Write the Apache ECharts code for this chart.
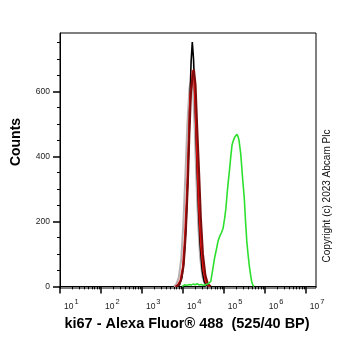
<!DOCTYPE html>
<html>
<head>
<meta charset="utf-8">
<script src="https://cdn.jsdelivr.net/npm/echarts@6/dist/echarts.min.js"></script>
<style>
  html, body { margin: 0; padding: 0; background: #fff; }
  #chart { width: 362px; height: 351px; }
</style>
</head>
<body>
<div id="chart"></div>
<script>
// x positions are log10 of the intensity (10^1 .. 10^7)
const grayLog = [3.78, 3.84, 3.90, 3.96, 4.01, 4.06, 4.11, 4.16, 4.21, 4.25, 4.29, 4.33, 4.37, 4.42, 4.48, 4.54, 4.60]
const grayCounts = [0, 6, 28, 85, 190, 340, 500, 610, 640, 600, 480, 330, 200, 90, 28, 6, 0]

const blackLog = [3.85, 3.92, 3.98, 4.03, 4.08, 4.12, 4.16, 4.20, 4.23, 4.26, 4.30, 4.34, 4.38, 4.42, 4.47, 4.52, 4.58, 4.63]
const blackCounts = [0, 5, 30, 90, 200, 340, 520, 690, 752, 700, 560, 390, 240, 130, 50, 15, 3, 0]

const redLog = [3.82, 3.88, 3.94, 4.00, 4.05, 4.10, 4.14, 4.18, 4.21, 4.24, 4.27, 4.31, 4.35, 4.39, 4.44, 4.50, 4.56, 4.62, 4.66]
const redCounts = [0, 4, 18, 60, 150, 290, 440, 590, 615, 665, 650, 540, 390, 250, 130, 50, 14, 3, 0]

const darkRedLog = [3.84, 3.90, 3.96, 4.02, 4.07, 4.12, 4.16, 4.20, 4.24, 4.27, 4.31, 4.35, 4.40, 4.44, 4.49, 4.55, 4.61, 4.68]
const darkRedCounts = [0, 5, 20, 65, 160, 310, 470, 600, 650, 668, 620, 490, 340, 210, 100, 35, 8, 0]

const greenLog = [3.98, 4.00, 4.05, 4.10, 4.15, 4.20, 4.25, 4.30, 4.35, 4.40, 4.45, 4.50, 4.55, 4.62, 4.68, 4.72, 4.77, 4.82, 4.86, 4.90, 4.94, 4.98, 5.02, 5.05, 5.08, 5.11, 5.14, 5.17, 5.20, 5.23, 5.26, 5.29, 5.32, 5.35, 5.37, 5.39, 5.41, 5.43, 5.45, 5.47, 5.50, 5.53, 5.56, 5.59, 5.62, 5.65, 5.68, 5.71, 5.74]
const greenCounts = [0, 3, 5, 3, 6, 4, 7, 5, 8, 4, 6, 3, 5, 8, 15, 45, 85, 115, 140, 155, 165, 178, 210, 240, 285, 325, 360, 400, 435, 448, 458, 462, 468, 460, 450, 430, 410, 380, 345, 315, 270, 200, 140, 100, 65, 38, 15, 3, 0]

const xDecades = [1, 2, 3, 4, 5, 6, 7]
const yMajor = [0, 200, 400, 600]
const yMinor = [50, 100, 150, 250, 300, 350, 450, 500, 550, 650, 700, 750]

const fontFamily = '"Liberation Sans", Arial, sans-serif'

function pairs (xs, ys) {
  return xs.map((x, i) => [x, ys[i]])
}

// log minor ticks: 2..9 x 10^n
let xMinor = []
xDecades.forEach(d => {
  for (let k = 2; k <= 9; k++) {
    let v = d + Math.log10(k)
    if (v < 7.25) xMinor.push(v)
  }
})

const myChart = echarts.init(document.getElementById('chart'))

const xBase = {
  type: 'value',
  min: 1,
  max: 7.25,
  position: 'bottom',
  splitLine: { show: false }
}
const yBase = {
  type: 'value',
  min: -5,
  max: 780,
  position: 'left',
  splitLine: { show: false }
}

function line (data, color, width) {
  return {
    type: 'line',
    data: data,
    showSymbol: false,
    symbol: 'none',
    xAxisIndex: 0,
    yAxisIndex: 0,
    lineStyle: { color: color, width: width },
    itemStyle: { color: color }
  }
}

const option = {
  animation: false,
  grid: {
    left: 60,
    right: 46,
    top: 33,
    bottom: 63,
    show: true,
    borderColor: '#000',
    borderWidth: 1
  },
  xAxis: [
    Object.assign({}, xBase, {
      axisLine: { show: true, lineStyle: { color: '#000', width: 1 } },
      axisTick: { show: true, customValues: xMinor, length: 3, lineStyle: { color: '#000' } },
      axisLabel: { show: false }
    }),
    Object.assign({}, xBase, {
      axisLine: { show: false },
      axisTick: { show: true, customValues: xDecades, length: 7, lineStyle: { color: '#000', width: 1.5 } },
      axisLabel: {
        customValues: xDecades,
        margin: 10,
        align: 'left',
        formatter: v => '{b|10}{s|' + v + '}',
        rich: {
          b: { fontSize: 8.5, fontFamily: fontFamily, color: '#222', padding: [0, 0, 0, 4], verticalAlign: 'bottom' },
          s: { fontSize: 7.5, fontFamily: fontFamily, color: '#222', padding: [0, 0, 5, 1], verticalAlign: 'bottom' }
        }
      }
    })
  ],
  yAxis: [
    Object.assign({}, yBase, {
      axisLine: { show: true, lineStyle: { color: '#000', width: 1 } },
      axisTick: { show: true, customValues: yMinor, length: 3, lineStyle: { color: '#000' } },
      axisLabel: { show: false }
    }),
    Object.assign({}, yBase, {
      axisLine: { show: false },
      axisTick: { show: true, customValues: yMajor, length: 7, lineStyle: { color: '#000', width: 1.5 } },
      axisLabel: {
        customValues: yMajor,
        margin: 10,
        fontSize: 8.5,
        fontFamily: fontFamily,
        color: '#222'
      }
    })
  ],
  series: [
    line(pairs(grayLog, grayCounts), '#b8b0b0', 2),
    line(pairs(blackLog, blackCounts), '#000000', 1.6),
    line(pairs(redLog, redCounts), '#e01010', 2),
    line(pairs(darkRedLog, darkRedCounts), '#7d0c0c', 2),
    line(pairs(greenLog, greenCounts), '#2ee02e', 1.6)
  ],
  graphic: [
    {
      type: 'text',
      x: 16.5,
      y: 142,
      rotation: Math.PI / 2,
      style: { text: 'Counts', font: 'bold 14px ' + fontFamily, align: 'center', verticalAlign: 'middle', fill: '#000' }
    },
    {
      type: 'text',
      x: 187,
      y: 324,
      style: { text: 'ki67 - Alexa Fluor® 488  (525/40 BP)', font: 'bold 14.5px ' + fontFamily, align: 'center', verticalAlign: 'middle', fill: '#000' }
    },
    {
      type: 'text',
      x: 327,
      y: 196,
      rotation: Math.PI / 2,
      style: { text: 'Copyright (c) 2023 Abcam Plc', font: '10px ' + fontFamily, align: 'center', verticalAlign: 'middle', fill: '#111' }
    }
  ]
}
myChart.setOption(option)
</script>
</body>
</html>
